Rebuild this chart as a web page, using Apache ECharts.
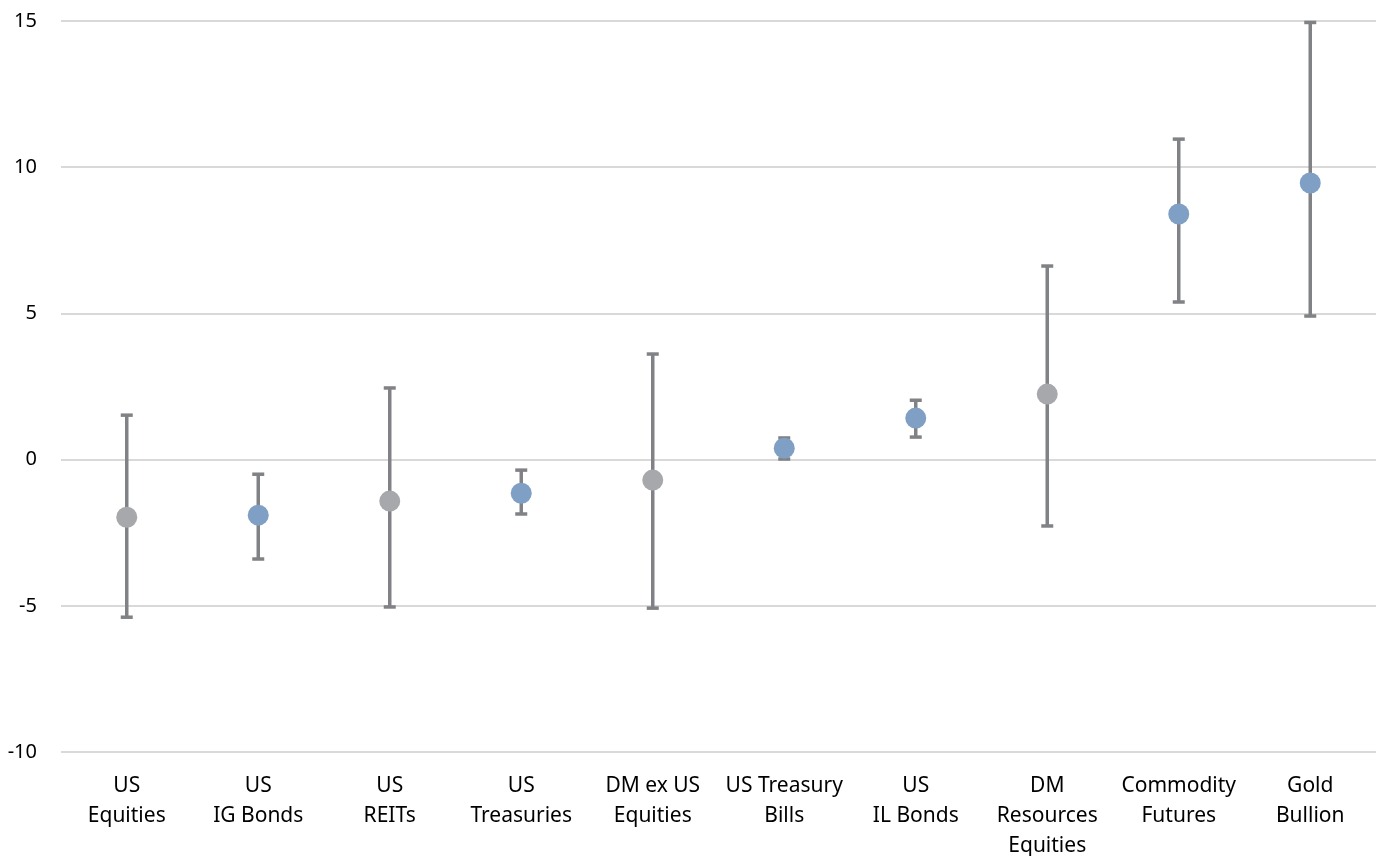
<!DOCTYPE html>
<html>
<head>
<meta charset="utf-8">
<script src="https://cdn.jsdelivr.net/npm/echarts@6/dist/echarts.min.js"></script>
<style>
html,body{margin:0;padding:0;background:#fff;}
#chart{width:1382px;height:856px;}
</style>
</head>
<body>
<div id="chart"></div>
<script>
const categories = ["US\nEquities","US\nIG Bonds","US\nREITs","US\nTreasuries","DM ex US\nEquities","US Treasury\nBills","US\nIL Bonds","DM\nResources\nEquities","Commodity\nFutures","Gold\nBullion"];
const midValues = [-1.97, -1.9, -1.42, -1.15, -0.70, 0.39, 1.42, 2.24, 8.40, 9.46];
const lowValues = [-5.39, -3.4, -5.04, -1.86, -5.08, 0.02, 0.77, -2.27, 5.39, 4.91];
const highValues = [1.52, -0.5, 2.45, -0.36, 3.61, 0.74, 2.03, 6.62, 10.96, 14.95];
const pointGroup = ["gray","blue","gray","blue","gray","blue","blue","gray","blue","blue"];
const yTicks = {min: -10, max: 15, interval: 5};

const colorMap = {gray: "#a7a8ab", blue: "#7fa0c4"};
const errData = categories.map((c, i) => [i, lowValues[i], highValues[i]]);
const pointData = categories.map((c, i) => ({value: [i, midValues[i]], itemStyle: {color: colorMap[pointGroup[i]], opacity: 1}}));

const chart = echarts.init(document.getElementById('chart'));
chart.setOption({
  animation: false,
  grid: {left: 61, right: 6, top: 21, bottom: 104, containLabel: false, outerBoundsMode: 'none'},
  xAxis: {
    type: 'category',
    data: categories,
    boundaryGap: true,
    axisLine: {show: false},
    axisTick: {show: false},
    axisLabel: {
      interval: 0,
      margin: 19,
      fontFamily: 'Noto Sans',
      fontSize: 21,
      lineHeight: 30,
      color: '#000'
    }
  },
  yAxis: {
    type: 'value',
    min: yTicks.min, max: yTicks.max, interval: yTicks.interval,
    axisLine: {show: false},
    axisTick: {show: false},
    splitLine: {lineStyle: {color: '#d9d9d9', width: 2}},
    axisLabel: {margin: 24, fontFamily: 'Noto Sans', fontSize: 20, color: '#000'}
  },
  series: [
    {
      type: 'custom',
      data: errData,
      z: 2,
      renderItem: function (params, api) {
        const x = api.value(0);
        const lo = api.coord([x, api.value(1)]);
        const hi = api.coord([x, api.value(2)]);
        const half = 6;
        const style = {stroke: '#808285', lineWidth: 3.5, fill: null};
        return {
          type: 'group',
          children: [
            {type: 'line', shape: {x1: lo[0], y1: lo[1], x2: hi[0], y2: hi[1]}, style: style},
            {type: 'line', shape: {x1: lo[0]-half, y1: lo[1], x2: lo[0]+half, y2: lo[1]}, style: style},
            {type: 'line', shape: {x1: hi[0]-half, y1: hi[1], x2: hi[0]+half, y2: hi[1]}, style: style}
          ]
        };
      }
    },
    {
      type: 'scatter',
      data: pointData,
      symbol: 'circle',
      symbolSize: 21,
      z: 3
    }
  ]
});
</script>
</body>
</html>
